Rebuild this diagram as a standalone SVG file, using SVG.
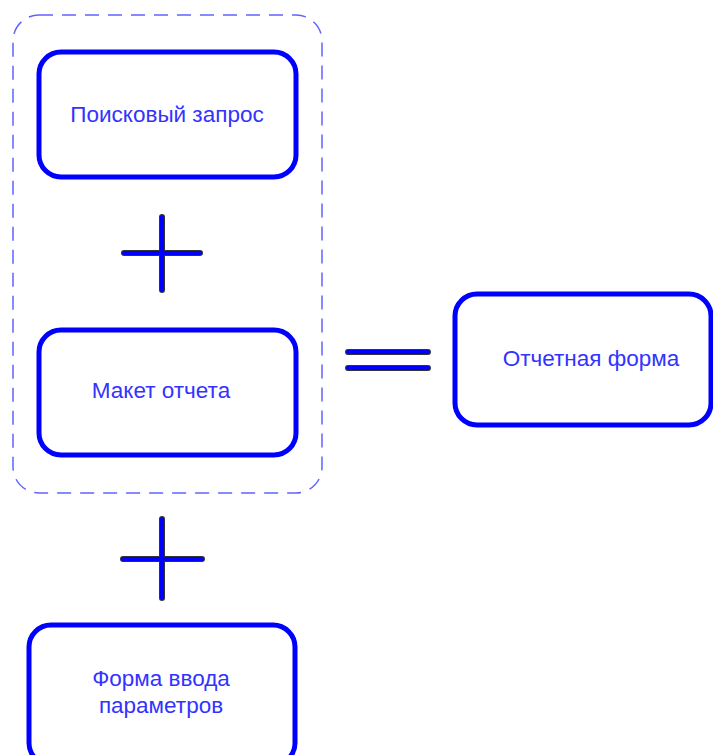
<svg xmlns="http://www.w3.org/2000/svg" width="713" height="755" viewBox="0 0 713 755">
<style>
.box{fill:#fff;stroke:#0000ff;stroke-width:5}
.lbl{font-family:"Liberation Sans",Arial,sans-serif;font-size:22.5px;fill:#3333ff;text-anchor:middle;dominant-baseline:central}
.grp{fill:none;stroke:#6262ff;stroke-width:1.5;stroke-dasharray:14 9}
.out{stroke:#333;stroke-width:6;stroke-linecap:round;fill:none}
.in{stroke:#0000ff;stroke-width:4;stroke-linecap:round;fill:none}
</style>
<g id="group">
<rect class="grp" x="13" y="15" width="309" height="478" rx="26"/>
</g>
<g id="n1">
<rect class="box" x="39" y="52" width="257" height="125" rx="22"/>
<text class="lbl" x="167" y="114">Поисковый запрос</text>
</g>
<g id="n2">
<rect class="box" x="39" y="330" width="257" height="125" rx="22"/>
<text class="lbl" x="161" y="390">Макет отчета</text>
</g>
<g id="n3">
<rect class="box" x="455" y="294" width="256" height="131" rx="22"/>
<text class="lbl" x="591" y="358">Отчетная форма</text>
</g>
<g id="n4">
<rect class="box" x="29" y="625" width="266" height="140" rx="22"/>
<text class="lbl" x="161" y="678">Форма ввода</text>
<text class="lbl" x="161" y="705">параметров</text>
</g>
<g id="connectors">
<path class="out" d="M162 217V290M124 253H200M162 519V598M123 559H202M348 352H428M348 368H428"/>
<path class="in" d="M162 217V290M124 253H200M162 519V598M123 559H202M348 352H428M348 368H428"/>
</g>
</svg>
